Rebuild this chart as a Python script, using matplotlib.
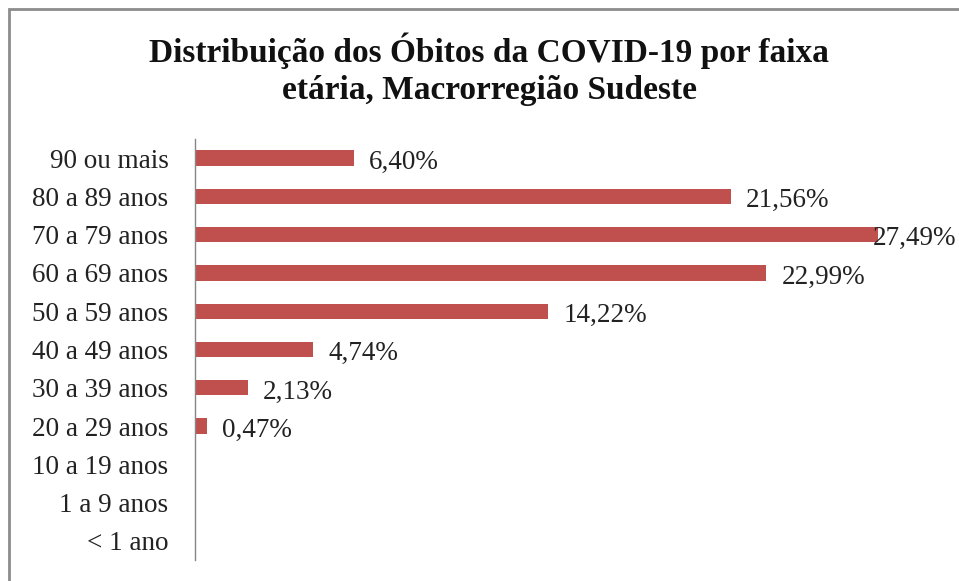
import matplotlib
matplotlib.use("Agg")
import matplotlib.pyplot as plt
from matplotlib.patches import Rectangle

# Data
faixas = ["90 ou mais", "80 a 89 anos", "70 a 79 anos", "60 a 69 anos",
          "50 a 59 anos", "40 a 49 anos", "30 a 39 anos", "20 a 29 anos",
          "10 a 19 anos", "1 a 9 anos", "< 1 ano"]
percentuais = [6.40, 21.56, 27.49, 22.99, 14.22, 4.74, 2.13, 0.47, 0, 0, 0]

W, H = 959, 581
fig = plt.figure(figsize=(W / 100, H / 100), dpi=100)
fig.patch.set_facecolor("white")

# frame around the chart (right/bottom edges cut off in the original)
fig.patches.append(Rectangle((9 / W, -0.05), 1.2, 1 - 9 / H + 0.05,
                             transform=fig.transFigure, fill=False,
                             edgecolor="#8c8c8c", linewidth=2))

# axes placed in pixel terms
left, right = 195, 935
top, bottom = 139, 560
ax = fig.add_axes([left / W, 1 - bottom / H, (right - left) / W, (bottom - top) / H])

px_per_pct = 24.84
ax.set_xlim(0, (right - left) / px_per_pct)
ax.set_ylim(len(faixas) - 0.5, -0.5)

ypos = list(range(len(faixas)))
ax.barh(ypos, percentuais, height=0.4, color="#C0504D")

serif = "Liberation Serif"
for y, v in zip(ypos, percentuais):
    if v <= 0:
        continue
    lbl = f"{v:.2f}".replace(".", ",") + "%"
    dx = 11 if v < 27 else -4
    ax.annotate(lbl, (v, y), xytext=(dx, -3), textcoords="offset points",
                ha="left", va="center", fontsize=19.5, family=serif,
                color="#222222", annotation_clip=False)

ax.set_yticks(ypos)
ax.set_yticklabels(faixas, family=serif, fontsize=19.5, color="#222222")
ax.tick_params(axis="y", length=0, pad=19)
ax.set_xticks([])
for s in ["top", "right", "bottom"]:
    ax.spines[s].set_visible(False)
ax.spines["left"].set_color("#868686")
ax.spines["left"].set_linewidth(1)

fig.text(489 / W, 1 - 69 / H,
         "Distribuição dos Óbitos da COVID-19 por faixa\netária, Macrorregião Sudeste",
         ha="center", va="center", fontsize=24, fontweight="bold",
         family="Liberation Serif", linespacing=1.25, color="#111111")

fig.savefig("out.png", dpi=100)
